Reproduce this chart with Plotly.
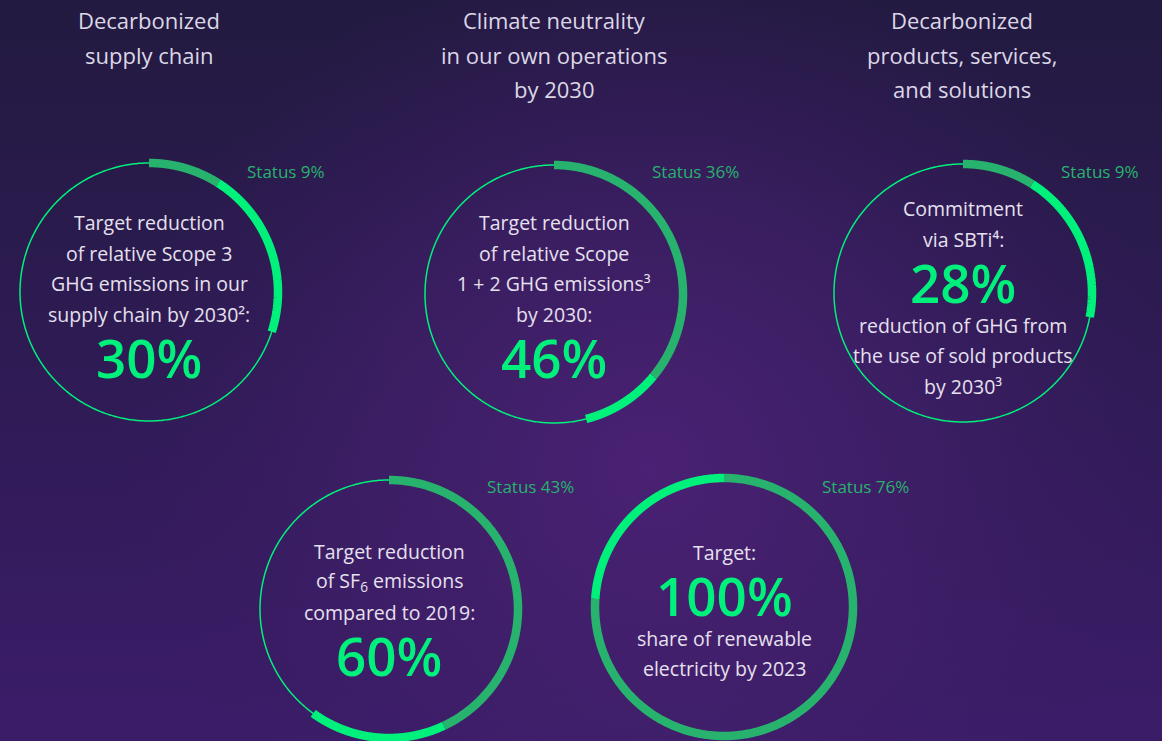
import base64
import numpy as np
import plotly.graph_objects as go

W, H = 1162, 741

# ---------------- data ----------------
headers = [
    ["Decarbonized", "supply chain"],
    ["Climate neutrality", "in our own operations", "by 2030"],
    ["Decarbonized", "products, services,", "and solutions"],
]
targets = [30, 46, 28, 60, 100]          # target (thick arc length, % of circle)
status = [9, 36, 9, 43, 76]              # achieved status (dark part of arc)
big_labels = ["30%", "46%", "28%", "60%", "100%"]
lines_before = [
    ["Target reduction", "of relative Scope 3", "GHG emissions in our", "supply chain by 2030²:"],
    ["Target reduction", "of relative Scope", "1 + 2 GHG emissions³", "by 2030:"],
    ["Commitment", "via SBTi⁴:"],
    ["Target reduction", "of SF<sub>6</sub> emissions", "compared to 2019:"],
    ["Target:"],
]
lines_after = [
    [],
    [],
    ["reduction of GHG from", "the use of sold products", "by 2030³"],
    [],
    ["share of renewable", "electricity by 2023"],
]

# ---------------- layout positions / styles ----------------
centers = [(149, 292), (554, 294), (963, 293), (389, 609), (724, 607)]
header_x = [149, 554, 962]
R = 129
BRIGHT = "#00f07c"
DARK = "#27b36d"
TEXT = "#e6e0ef"
HEAD = "#dcd7e6"
FONT = "Open Sans"

fig = go.Figure()


def arc(cx, cy, p0, p1, n=360):
    th = np.linspace(p0, p1, n) / 100.0 * 2 * np.pi
    return cx + R * np.sin(th), cy - R * np.cos(th)


for i, (cx, cy) in enumerate(centers):
    # thin full circle
    x, y = arc(cx, cy, 0, 100, 500)
    fig.add_trace(go.Scatter(x=x, y=y, mode="lines",
                             line=dict(color=BRIGHT, width=1.5, simplify=False),
                             hoverinfo="skip", showlegend=False))
    # bright remaining part of target
    if targets[i] > status[i]:
        x, y = arc(cx, cy, status[i], targets[i])
        fig.add_trace(go.Scatter(x=x, y=y, mode="lines",
                                 line=dict(color=BRIGHT, width=8.5, simplify=False),
                                 hoverinfo="skip", showlegend=False))
    # dark achieved status part
    x, y = arc(cx, cy, 0, status[i])
    fig.add_trace(go.Scatter(x=x, y=y, mode="lines",
                             line=dict(color=DARK, width=8.5, simplify=False),
                             hoverinfo="skip", showlegend=False))

ann = []
# headers
for hx, lines in zip(header_x, headers):
    for k, t in enumerate(lines):
        ann.append(dict(x=hx, y=20 + 34.5 * k, text=t, showarrow=False, xanchor="center",
                        yanchor="middle", font=dict(family=FONT, size=22, color=HEAD)))

# ring texts
LS = 30.5
big_y = [360, 360, 285, 658, 598]
for i, (cx, cy) in enumerate(centers):
    by = big_y[i]
    nb = len(lines_before[i])
    for k, t in enumerate(lines_before[i]):
        ann.append(dict(x=cx, y=by - 46 - LS * (nb - 1 - k), text=t, showarrow=False,
                        xanchor="center", yanchor="middle",
                        font=dict(family=FONT, size=19.5, color=TEXT)))
    ann.append(dict(x=cx, y=by - 3, text=big_labels[i], showarrow=False, xanchor="center",
                    yanchor="middle",
                    font=dict(family=FONT, size=53, color=BRIGHT, weight=600)))
    for k, t in enumerate(lines_after[i]):
        ann.append(dict(x=cx, y=by + 40 + LS * k, text=t, showarrow=False,
                        xanchor="center", yanchor="middle",
                        font=dict(family=FONT, size=19.5, color=TEXT)))
    sy = 171 if i < 3 else 486
    ann.append(dict(x=cx + 96, y=sy, text=f"Status {status[i]}%", showarrow=False,
                    xanchor="left", yanchor="middle",
                    font=dict(family=FONT, size=17, color=DARK)))

svg = f"""<svg xmlns='http://www.w3.org/2000/svg' width='{W}' height='{H}'>
<defs>
<linearGradient id='g' x1='0' y1='0' x2='0' y2='1'>
<stop offset='0' stop-color='#221a40'/>
<stop offset='1' stop-color='#3b1c69'/>
</linearGradient>
<radialGradient id='r' cx='650' cy='470' r='540' gradientUnits='userSpaceOnUse'>
<stop offset='0' stop-color='#4a2174' stop-opacity='1'/>
<stop offset='0.5' stop-color='#43206c' stop-opacity='0.6'/>
<stop offset='1' stop-color='#3a1c62' stop-opacity='0'/>
</radialGradient>
</defs>
<rect width='{W}' height='{H}' fill='url(#g)'/>
<rect width='{W}' height='{H}' fill='url(#r)'/>
</svg>"""
src = "data:image/svg+xml;base64," + base64.b64encode(svg.encode()).decode()

fig.update_layout(
    width=W, height=H,
    margin=dict(l=0, r=0, t=0, b=0),
    paper_bgcolor="#2e1b55", plot_bgcolor="rgba(0,0,0,0)",
    xaxis=dict(range=[0, W], visible=False, fixedrange=True),
    yaxis=dict(range=[H, 0], visible=False, fixedrange=True),
    annotations=ann,
    images=[dict(source=src, xref="paper", yref="paper", x=0, y=1, sizex=1, sizey=1,
                 xanchor="left", yanchor="top", sizing="stretch", layer="below")],
    showlegend=False,
)

fig.write_html(
    "out.html",
    config={"displayModeBar": False, "staticPlot": True},
    post_script="document.body.style.margin='0';document.body.style.padding='0';"
                "document.body.style.overflow='hidden';document.body.style.background='#2e1b55';",
)
